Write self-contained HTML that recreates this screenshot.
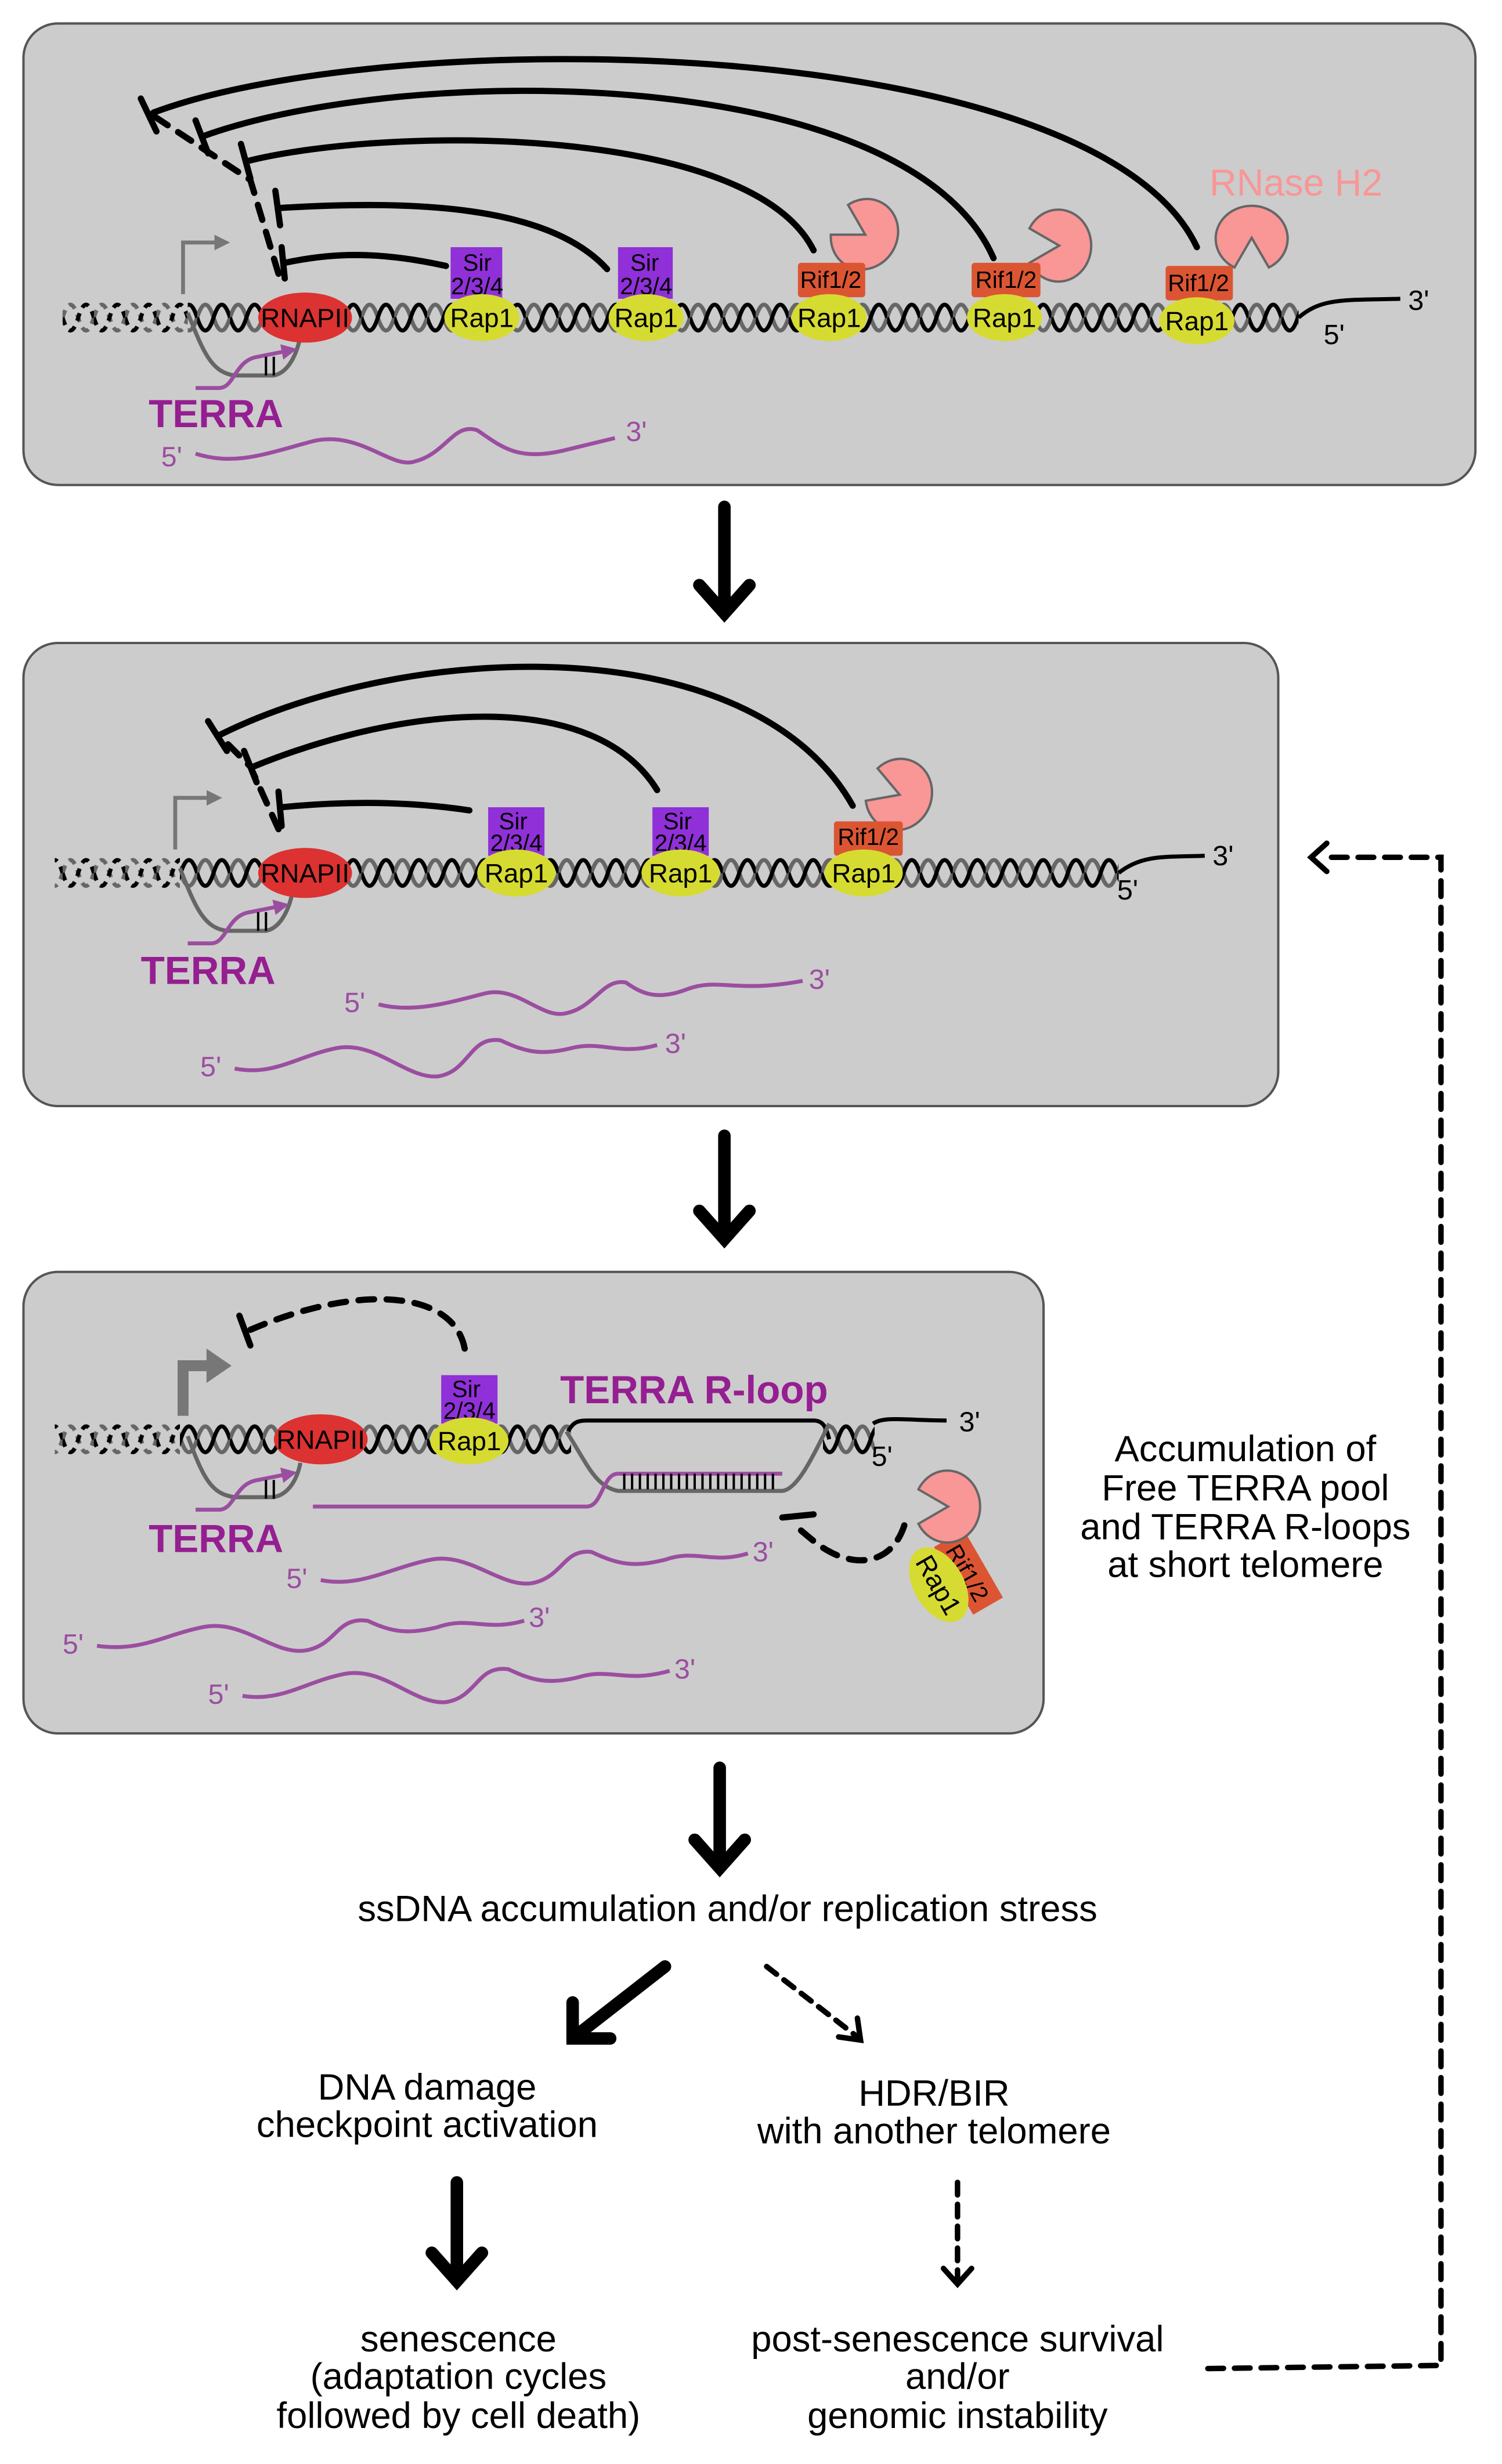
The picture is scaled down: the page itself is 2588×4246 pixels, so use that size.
<!DOCTYPE html>
<html><head><meta charset="utf-8"><style>
html,body{margin:0;padding:0;background:#fff}
svg{display:block}
text{font-family:"Liberation Sans",Arial,sans-serif}
</style></head><body>
<svg width="2588" height="4246" viewBox="0 0 960 1575" preserveAspectRatio="none" xmlns="http://www.w3.org/2000/svg">
<defs>
<pattern id="hx" patternUnits="userSpaceOnUse" width="21" height="24">
<path d="M0,12 C3.5,1 7,1 10.5,12 C14,23 17.5,23 21,12" fill="none" stroke="#666" stroke-width="2.6"/>
<path d="M0,12 C3.5,23 7,23 10.5,12 C14,1 17.5,1 21,12" fill="none" stroke="#000" stroke-width="2.6"/>
</pattern>
<pattern id="hxd" patternUnits="userSpaceOnUse" width="20" height="24">
<path d="M0,12 C3.3,1 6.7,1 10,12 C13.3,23 16.7,23 20,12" fill="none" stroke="#666" stroke-width="2.6" stroke-dasharray="5 4"/>
<path d="M0,12 C3.3,23 6.7,23 10,12 C13.3,1 16.7,1 20,12" fill="none" stroke="#000" stroke-width="2.6" stroke-dasharray="5 4"/>
</pattern>
<g id="pac"><path d="M0,0 L19,-11 A21,23 0 1 0 19,11 Z" fill="#f99696" stroke="#666" stroke-width="1.5"/></g>
<marker id="ah" markerWidth="10" markerHeight="10" refX="5" refY="5" orient="auto" markerUnits="userSpaceOnUse"><path d="M0,0 L10,5 L0,10 Z" fill="#777"/></marker>
<marker id="ap" markerWidth="10" markerHeight="10" refX="5" refY="5" orient="auto" markerUnits="userSpaceOnUse"><path d="M0,0 L10,5 L0,10 Z" fill="#9b4ea0"/></marker>
</defs>
<rect width="960" height="1575" fill="#fff"/>

<!-- PANEL 1 -->
<rect x="15" y="15" width="928" height="295" rx="22" fill="#cccccc" stroke="#555" stroke-width="1.5"/>
<g transform="translate(0,191)"><rect x="40" y="0" width="80" height="24" fill="url(#hxd)"/><rect x="120" y="0" width="710" height="24" fill="url(#hx)"/></g>
<path d="M830,203 C845,190 860,192 895,191" fill="none" stroke="#000" stroke-width="2.6"/>
<text x="900" y="198" font-size="18">3'</text><text x="846" y="220" font-size="18">5'</text>
<path d="M117,188 V155 H142" fill="none" stroke="#777" stroke-width="2.5" marker-end="url(#ah)"/>
<path d="M120,200 C130,225 135,238 150,240 H175 C185,238 190,225 192,215" fill="none" stroke="#666" stroke-width="2.6"/>
<path d="M125,248 H140 C150,248 150,230 165,228 L185,224" fill="none" stroke="#9b4ea0" stroke-width="2.5" marker-end="url(#ap)"/>
<path d="M170,228 V240 M175,228 V240" stroke="#000" stroke-width="1.5"/>
<g fill="none" stroke="#000" stroke-width="4" stroke-linecap="round">
<path d="M178,175 L160,115 L95,72" stroke-dasharray="10 8"/>
<path d="M285,170 C240,160 210,162 182,168"/><path d="M180,158 L182,178"/>
<path d="M388,172 C350,130 260,128 178,133"/><path d="M176,122 L179,144"/>
<path d="M520,160 C480,80 250,80 158,103"/><path d="M154,92 L160,114"/>
<path d="M635,165 C580,40 260,40 130,87"/><path d="M125,77 L133,98"/>
<path d="M765,158 C700,20 250,15 98,72"/><path d="M90,63 L100,84"/>
</g>
<text x="773" y="125" font-size="24" fill="#f99696">RNase H2</text>
<use href="#pac" transform="translate(553,150) rotate(-150)"/>
<use href="#pac" transform="translate(677,157) rotate(180)"/>
<use href="#pac" transform="translate(800,152) rotate(90)"/>
<g font-size="15" text-anchor="middle">
<rect x="288" y="158" width="33" height="33" fill="#9030d8"/><text x="305" y="173">Sir</text><text x="305" y="188">2/3/4</text>
<rect x="395" y="158" width="35" height="33" fill="#9030d8"/><text x="412" y="173">Sir</text><text x="413" y="188">2/3/4</text>
<rect x="510" y="168" width="43" height="22" rx="2" fill="#dc5533"/><text x="531" y="184">Rif1/2</text>
<rect x="621" y="168" width="44" height="22" rx="2" fill="#dc5533"/><text x="643" y="184">Rif1/2</text>
<rect x="745" y="170" width="43" height="22" rx="2" fill="#dc5533"/><text x="766" y="186">Rif1/2</text>
</g>
<g fill="#d6db32"><ellipse cx="195" cy="203" rx="30" ry="16" fill="#dc3232"/>
<ellipse cx="308" cy="203" rx="24" ry="15"/><ellipse cx="413" cy="203" rx="24" ry="15"/><ellipse cx="530" cy="203" rx="24" ry="15"/><ellipse cx="642" cy="203" rx="24" ry="15"/><ellipse cx="765" cy="205" rx="24" ry="15"/></g>
<g font-size="17" text-anchor="middle"><text x="195" y="209">RNAPII</text><text x="308" y="209">Rap1</text><text x="413" y="209">Rap1</text><text x="530" y="209">Rap1</text><text x="642" y="209">Rap1</text><text x="765" y="211">Rap1</text></g>
<text x="95" y="273" font-size="25" font-weight="bold" fill="#951e91">TERRA</text>
<text x="103" y="298" font-size="18" fill="#9b4ea0">5'</text>
<path d="M125,290 C150,298 170,290 200,282 C230,275 250,300 265,295 C285,290 290,270 305,275 C320,285 330,295 360,288 L393,280" fill="none" stroke="#9b4ea0" stroke-width="2.5"/>
<text x="400" y="282" font-size="18" fill="#9b4ea0">3'</text>

<path d="M463,324 V392 M447,374 L463,392 L479,374" fill="none" stroke="#000" stroke-width="8" stroke-linecap="round"/>

<!-- PANEL 2 -->
<rect x="15" y="411" width="802" height="296" rx="22" fill="#cccccc" stroke="#555" stroke-width="1.5"/>
<g transform="translate(0,546)"><rect x="35" y="0" width="80" height="24" fill="url(#hxd)"/><rect x="115" y="0" width="600" height="24" fill="url(#hx)"/></g>
<path d="M715,558 C730,546 745,548 770,547" fill="none" stroke="#000" stroke-width="2.6"/>
<text x="775" y="553" font-size="18">3'</text><text x="714" y="575" font-size="18">5'</text>
<path d="M112,543 V510 H137" fill="none" stroke="#777" stroke-width="2.5" marker-end="url(#ah)"/>
<path d="M115,555 C125,580 130,593 145,595 H170 C180,593 185,580 187,570" fill="none" stroke="#666" stroke-width="2.6"/>
<path d="M120,603 H135 C145,603 145,585 160,583 L180,579" fill="none" stroke="#9b4ea0" stroke-width="2.5" marker-end="url(#ap)"/>
<path d="M165,583 V595 M170,583 V595" stroke="#000" stroke-width="1.5"/>
<g fill="none" stroke="#000" stroke-width="4" stroke-linecap="round">
<path d="M178,530 L160,490 L140,470" stroke-dasharray="10 8"/>
<path d="M300,518 C260,512 220,512 180,516"/><path d="M178,506 L180,528"/>
<path d="M420,505 C380,440 260,450 162,490"/><path d="M156,480 L164,500"/>
<path d="M545,515 C480,400 260,410 140,470"/><path d="M133,461 L145,480"/>
</g>
<use href="#pac" transform="translate(575,508) rotate(-160)"/>
<g font-size="15" text-anchor="middle">
<rect x="312" y="516" width="36" height="31" fill="#9030d8"/><text x="328" y="530">Sir</text><text x="330" y="544">2/3/4</text>
<rect x="417" y="516" width="36" height="31" fill="#9030d8"/><text x="433" y="530">Sir</text><text x="435" y="544">2/3/4</text>
<rect x="533" y="525" width="44" height="22" rx="2" fill="#dc5533"/><text x="555" y="540">Rif1/2</text>
</g>
<g fill="#d6db32"><ellipse cx="195" cy="558" rx="30" ry="16" fill="#dc3232"/>
<ellipse cx="330" cy="558" rx="25" ry="15"/><ellipse cx="435" cy="558" rx="25" ry="15"/><ellipse cx="552" cy="558" rx="25" ry="15"/></g>
<g font-size="17" text-anchor="middle"><text x="195" y="564">RNAPII</text><text x="330" y="564">Rap1</text><text x="435" y="564">Rap1</text><text x="552" y="564">Rap1</text></g>
<text x="90" y="629" font-size="25" font-weight="bold" fill="#951e91">TERRA</text>
<text x="220" y="647" font-size="18" fill="#9b4ea0">5'</text>
<path d="M242,642 C265,648 290,640 310,635 C330,630 345,650 360,648 C380,645 385,625 400,628 C410,635 420,640 440,632 C460,625 470,635 513,627" fill="none" stroke="#9b4ea0" stroke-width="2.5"/>
<text x="517" y="632" font-size="18" fill="#9b4ea0">3'</text>
<text x="128" y="688" font-size="18" fill="#9b4ea0">5'</text>
<path d="M150,683 C175,688 190,675 215,670 C240,665 260,690 280,688 C300,685 300,662 320,665 C335,672 345,675 365,670 C385,665 395,675 420,668" fill="none" stroke="#9b4ea0" stroke-width="2.5"/>
<text x="425" y="673" font-size="18" fill="#9b4ea0">3'</text>

<path d="M463,726 V792 M447,774 L463,792 L479,774" fill="none" stroke="#000" stroke-width="8" stroke-linecap="round"/>

<!-- PANEL 3 -->
<rect x="15" y="813" width="652" height="295" rx="22" fill="#cccccc" stroke="#555" stroke-width="1.5"/>
<g transform="translate(0,908)"><rect x="35" y="0" width="80" height="24" fill="url(#hxd)"/><rect x="115" y="0" width="250" height="24" fill="url(#hx)"/><rect x="526" y="0" width="33" height="24" fill="url(#hx)"/></g>
<path d="M363,915 C366,910 368,908 375,908 H520 C526,908 528,912 530,920" fill="none" stroke="#000" stroke-width="2.6"/>
<path d="M362,915 C375,935 380,950 395,953 H500 C510,952 520,930 530,910" fill="none" stroke="#666" stroke-width="2.6"/>
<path d="M395,942 H500" stroke="#9b4ea0" stroke-width="2.5"/>
<path d="M399,942 V952 M404,942 V952 M409,942 V952 M414,942 V952 M419,942 V952 M424,942 V952 M429,942 V952 M434,942 V952 M439,942 V952 M444,942 V952 M449,942 V952 M454,942 V952 M459,942 V952 M464,942 V952 M469,942 V952 M474,942 V952 M479,942 V952 M484,942 V952 M489,942 V952 M494,942 V952" stroke="#000" stroke-width="1.5"/>
<path d="M200,963 H375 C385,963 385,942 395,942" fill="none" stroke="#9b4ea0" stroke-width="2.5"/>
<path d="M558,910 C565,905 580,908 605,908" fill="none" stroke="#000" stroke-width="2.6"/>
<text x="613" y="915" font-size="18">3'</text><text x="557" y="937" font-size="18">5'</text>
<path d="M117,905 V873 H135" fill="none" stroke="#777" stroke-width="7"/>
<path d="M132,862 L148,873 L132,884 Z" fill="#777"/>
<path d="M120,918 C130,945 135,955 150,957 H175 C185,955 190,945 192,935" fill="none" stroke="#666" stroke-width="2.6"/>
<path d="M125,965 H140 C150,965 150,948 165,946 L185,942" fill="none" stroke="#9b4ea0" stroke-width="2.5" marker-end="url(#ap)"/>
<path d="M170,946 V958 M175,946 V958" stroke="#000" stroke-width="1.5"/>
<g fill="none" stroke="#000" stroke-width="4" stroke-linecap="round">
<path d="M297,862 C290,825 230,820 160,850" stroke-dasharray="10 8"/><path d="M153,841 L160,860"/>
<path d="M578,975 C570,1000 545,1005 520,985 L508,975" stroke-dasharray="10 8"/><path d="M500,970 L520,968"/>
</g>
<text x="358" y="897" font-size="25" font-weight="bold" fill="#951e91">TERRA R-loop</text>
<g transform="translate(619,1005) rotate(60)"><rect x="-25" y="-11" width="50" height="22" fill="#dc5533"/><text x="0" y="6" font-size="15" text-anchor="middle">Rif1/2</text></g>
<g transform="translate(600,1013) rotate(60)"><ellipse cx="0" cy="0" rx="26" ry="16" fill="#d6db32"/><text x="0" y="6" font-size="17" text-anchor="middle">Rap1</text></g>
<use href="#pac" transform="translate(606,963) rotate(180)"/>
<rect x="282" y="879" width="36" height="31" fill="#9030d8"/>
<g font-size="15" text-anchor="middle"><text x="298" y="893">Sir</text><text x="300" y="907">2/3/4</text></g>
<ellipse cx="205" cy="920" rx="30" ry="16" fill="#dc3232"/><ellipse cx="300" cy="921" rx="25" ry="15" fill="#d6db32"/>
<g font-size="17" text-anchor="middle"><text x="205" y="926">RNAPII</text><text x="300" y="927">Rap1</text></g>
<text x="95" y="992" font-size="25" font-weight="bold" fill="#951e91">TERRA</text>
<g fill="none" stroke="#9b4ea0" stroke-width="2.5">
<path d="M205,1010 C230,1015 250,1002 275,997 C300,992 320,1015 340,1012 C360,1008 360,990 378,992 C395,1000 405,1002 425,997 C445,990 455,1000 478,993"/>
<path d="M62,1052 C90,1056 105,1045 130,1040 C155,1035 175,1058 195,1055 C215,1052 215,1033 235,1036 C250,1043 260,1045 280,1040 C300,1033 310,1043 335,1036"/>
<path d="M155,1084 C180,1088 195,1075 220,1070 C245,1065 265,1090 285,1088 C305,1085 305,1064 325,1067 C340,1074 350,1077 370,1072 C390,1066 400,1076 428,1068"/>
</g>
<g font-size="18" fill="#9b4ea0"><text x="183" y="1015">5'</text><text x="481" y="998">3'</text><text x="40" y="1057">5'</text><text x="338" y="1040">3'</text><text x="133" y="1089">5'</text><text x="431" y="1073">3'</text></g>

<!-- bottom flow -->
<path d="M460,1130 V1194 M444,1176 L460,1194 L476,1176" fill="none" stroke="#000" stroke-width="8" stroke-linecap="round"/>
<g font-size="23.5" text-anchor="middle">
<text x="465" y="1228">ssDNA accumulation and/or replication stress</text>
<text x="273" y="1342">DNA damage</text><text x="273" y="1366">checkpoint activation</text>
<text x="597" y="1346">HDR/BIR</text><text x="597" y="1370">with another telomere</text>
<text x="293" y="1503">senescence</text><text x="293" y="1527">(adaptation cycles</text><text x="293" y="1552">followed by cell death)</text>
<text x="612" y="1503">post-senescence survival</text><text x="612" y="1527">and/or</text><text x="612" y="1552">genomic instability</text>
<text x="796" y="934">Accumulation of</text><text x="796" y="959">Free TERRA pool</text><text x="796" y="984">and TERRA R-loops</text><text x="796" y="1008">at short telomere</text>
</g>
<g fill="none" stroke="#000" stroke-linecap="round">
<path d="M425,1257 L366,1303 M366,1280 L366,1303 L390,1303" stroke-width="8"/>
<path d="M490,1257 L548,1302" stroke-width="3.5" stroke-dasharray="8 6"/><path d="M536,1302 L550,1304 L548,1290" stroke-width="3.5"/>
<path d="M292,1395 V1458 M276,1440 L292,1458 L308,1440" stroke-width="8"/>
<path d="M612,1395 V1458" stroke-width="3.5" stroke-dasharray="8 6"/><path d="M603,1450 L612,1460 L621,1450" stroke-width="3.5"/>
<path d="M772,1514 L921,1512 V548 H845" stroke-width="3.5" stroke-dasharray="10 7"/><path d="M848,539 L838,548 L848,557" stroke-width="3.5"/>
</g>
</svg>
</body></html>
